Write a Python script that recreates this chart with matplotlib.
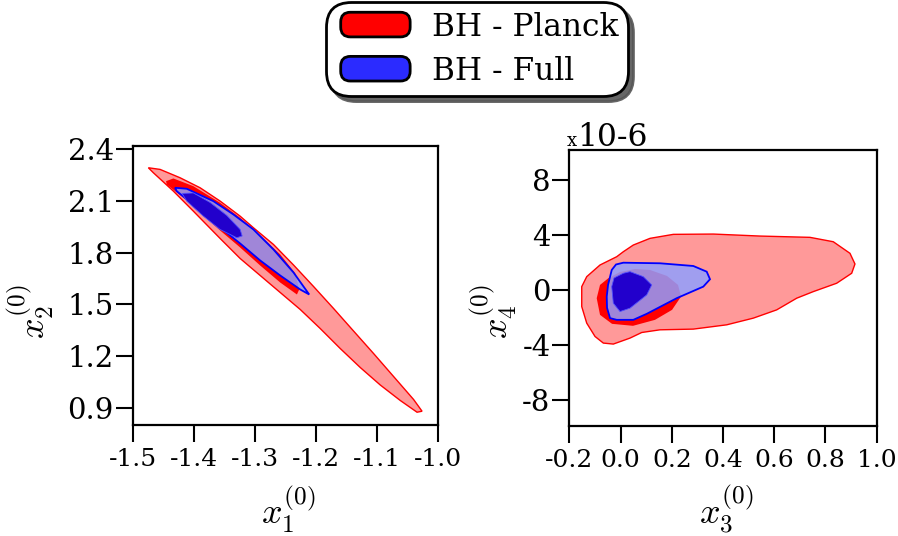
import matplotlib
matplotlib.use("Agg")
import matplotlib.pyplot as plt
from matplotlib.patches import Patch, FancyBboxPatch
from matplotlib.legend_handler import HandlerPatch

plt.rcParams["font.family"] = "DejaVu Serif"
plt.rcParams["mathtext.fontset"] = "cm"

# ---------------------------------------------------------------------------
# Contour outlines (data coordinates)
# left panel: x1 vs x2
# ---------------------------------------------------------------------------
planck_x12_outer_x = [-1.4744, -1.4552, -1.4225, -1.3897, -1.3567, -1.3241, -1.3023, -1.2695,
                      -1.2367, -1.2039, -1.1711, -1.1384, -1.1056, -1.0728, -1.0400, -1.0262,
                      -1.0344, -1.0618, -1.0946, -1.1274, -1.1602, -1.1930, -1.2257, -1.2585,
                      -1.2913, -1.3241, -1.3569, -1.4007, -1.4334, -1.4662]
planck_x12_outer_y = [2.2936, 2.2840, 2.2355, 2.1773, 2.0994, 2.0122, 1.9448, 1.8477,
                      1.7285, 1.6035, 1.4756, 1.3448, 1.2140, 1.0802, 0.9465, 0.8785,
                      0.8727, 0.9407, 1.0308, 1.1326, 1.2430, 1.3593, 1.4698, 1.5686,
                      1.6674, 1.7663, 1.8826, 2.0413, 2.1576, 2.2645]

planck_x12_inner_x = [-1.4454, -1.4334, -1.4007, -1.3569, -1.3241, -1.2913, -1.2585, -1.2339,
                      -1.2274, -1.2311, -1.2585, -1.2913, -1.3241, -1.3569, -1.3787, -1.4115,
                      -1.4443]
planck_x12_inner_y = [2.2157, 2.2314, 2.1866, 2.0901, 2.0029, 1.9000, 1.7900, 1.6800,
                      1.5860, 1.5570, 1.6267, 1.7256, 1.8302, 1.9291, 1.9988, 2.1035,
                      2.1965]

full_x12_outer_x = [-1.4307, -1.4115, -1.3679, -1.3351, -1.3023, -1.2695, -1.2367, -1.2110,
                    -1.2257, -1.2585, -1.2913, -1.3241, -1.3569, -1.3951, -1.4279]
full_x12_outer_y = [2.1773, 2.1715, 2.0994, 2.0221, 1.9349, 1.8186, 1.6849, 1.5570,
                    1.5860, 1.6674, 1.7547, 1.8535, 1.9465, 2.0628, 2.1576]

full_x12_inner_x = [-1.4192, -1.4007, -1.3733, -1.3459, -1.3241, -1.3208, -1.3295, -1.3569,
                    -1.3843, -1.4115]
full_x12_inner_y = [2.1442, 2.1471, 2.0919, 2.0163, 1.9349, 1.8971, 1.8866, 1.9349,
                    2.0122, 2.0994]

# right panel: x3 vs x4 (x4 in units of 1e-6)
planck_x34_outer_x = [-0.1516, -0.1321, -0.0802, -0.0150, 0.0108, 0.0498, 0.1150, 0.2059,
                      0.3621, 0.5443, 0.7395, 0.8304, 0.8956, 0.9151, 0.9023, 0.8437,
                      0.7524, 0.6876, 0.6095, 0.5182, 0.4144, 0.2840, 0.1540, 0.0826,
                      0.0369, -0.0283, -0.0673, -0.0997, -0.1321, -0.1516]
planck_x34_outer_y = [0.240, 0.967, 1.818, 2.422, 2.785, 3.273, 3.760, 4.051,
                      4.073, 3.927, 3.833, 3.513, 2.669, 1.891, 1.215, 0.487,
                      -0.124, -0.604, -1.455, -2.058, -2.545, -2.858, -2.909, -3.105,
                      -3.513, -3.949, -3.876, -3.396, -2.422, -1.215]

planck_x34_inner_x = [-0.0931, -0.0802, -0.0478, -0.0021, 0.0564, 0.1150, 0.1813, 0.2243,
                      0.2360, 0.2009, 0.1345, 0.0486, -0.0333, -0.0802]
planck_x34_inner_y = [-0.604, 0.364, 0.851, 1.309, 1.527, 1.455, 1.018, 0.364,
                      -0.487, -1.455, -2.182, -2.618, -2.473, -1.818]

full_x34_outer_x = [-0.0540, -0.0489, -0.0345, -0.0177, 0.0108, 0.1540, 0.2840, 0.3363,
                    0.3492, 0.3230, 0.2192, 0.1021, 0.0498, -0.0150, -0.0411, -0.0528]
full_x34_outer_y = [-0.487, 0.364, 1.455, 1.855, 1.985, 1.942, 1.745, 1.331,
                    0.778, 0.240, -0.604, -1.745, -2.182, -2.182, -2.058, -1.309]

full_x34_inner_x = [-0.0345, -0.0255, 0.0108, 0.0369, 0.0888, 0.1216, 0.1021, 0.0369,
                    -0.0021, -0.0283]
full_x34_inner_y = [0.240, 0.873, 1.215, 1.331, 0.967, 0.364, -0.364, -1.331,
                    -1.578, -0.967]

x1_ticks = [-1.5, -1.4, -1.3, -1.2, -1.1, -1.0]
x2_ticks = [0.9, 1.2, 1.5, 1.8, 2.1, 2.4]
x3_ticks = [-0.2, 0.0, 0.2, 0.4, 0.6, 0.8, 1.0]
x4_ticks = [-8, -4, 0, 4, 8]

labels = ["BH - Planck", "BH - Full"]
legend_colors = ["#ff0000", "#2b2bff"]

# colours of the filled regions
red_light = "#ff9999"
red_dark = "#ff0000"
blue_light = "#909fff"
blue_dark = "#2200cc"


class RoundBoxHandler(HandlerPatch):
    # rounded legend key, shifted right a little to leave room by the frame
    def create_artists(self, legend, orig_handle, xdescent, ydescent,
                       width, height, fontsize, trans):
        shift = 4.0
        p = FancyBboxPatch((-xdescent + shift, -ydescent - 1), width - shift, height + 2,
                           boxstyle="round,pad=0,rounding_size=7",
                           facecolor=orig_handle.get_facecolor(),
                           edgecolor="black", linewidth=2, transform=trans)
        return [p]


fig = plt.figure(figsize=(8.98, 5.36), dpi=100)
ax1 = fig.add_axes([0.1478, 0.2076, 0.3400, 0.5200])
ax2 = fig.add_axes([0.6340, 0.2058, 0.3423, 0.5143])


def draw_pair(ax, po_x, po_y, pi_x, pi_y, fo_x, fo_y, fi_x, fi_y):
    ax.fill(po_x, po_y, facecolor=red_light, edgecolor="red", linewidth=1.0, zorder=1)
    ax.fill(pi_x, pi_y, facecolor=red_dark, edgecolor="none", zorder=2)
    ax.fill(fo_x, fo_y, facecolor=blue_light, alpha=0.85, edgecolor="none", zorder=3)
    ax.fill(fo_x, fo_y, facecolor="none", edgecolor="blue", linewidth=1.3, zorder=4)
    ax.fill(fi_x, fi_y, facecolor=blue_dark, edgecolor="#5050ff", linewidth=0.6, zorder=5)


draw_pair(ax1, planck_x12_outer_x, planck_x12_outer_y, planck_x12_inner_x, planck_x12_inner_y,
          full_x12_outer_x, full_x12_outer_y, full_x12_inner_x, full_x12_inner_y)
draw_pair(ax2, planck_x34_outer_x, planck_x34_outer_y, planck_x34_inner_x, planck_x34_inner_y,
          full_x34_outer_x, full_x34_outer_y, full_x34_inner_x, full_x34_inner_y)

ax1.set_xlim(-1.5, -1.0)
ax1.set_ylim(0.80, 2.42)
ax1.set_xticks(x1_ticks)
ax1.set_xticklabels([f"{v:.1f}" for v in x1_ticks])
ax1.set_yticks(x2_ticks)
ax1.set_yticklabels([f"{v:.1f}" for v in x2_ticks])
ax1.set_xlabel(r"$x_1^{(0)}$", fontsize=26, ha="center", va="center")
ax1.set_ylabel(r"$x_2^{(0)}$", fontsize=26, ha="center", va="center")
ax1.xaxis.set_label_coords(0.51, -0.306)
ax1.yaxis.set_label_coords(-0.333, 0.404)

ax2.set_xlim(-0.2, 1.0)
ax2.set_ylim(-9.9, 10.2)
ax2.set_xticks(x3_ticks)
ax2.set_xticklabels([f"{v:.1f}" for v in x3_ticks])
ax2.set_yticks(x4_ticks)
ax2.set_yticklabels([str(v) for v in x4_ticks])
ax2.set_xlabel(r"$x_3^{(0)}$", fontsize=26, ha="center", va="center")
ax2.set_ylabel(r"$x_4^{(0)}$", fontsize=26, ha="center", va="center")
ax2.xaxis.set_label_coords(0.51, -0.306)
ax2.yaxis.set_label_coords(-0.245, 0.412)
ax2.text(-0.008, 1.016, "x", transform=ax2.transAxes, fontsize=13, va="baseline", ha="left")
ax2.text(0.026, 1.016, "10-6", transform=ax2.transAxes, fontsize=22.5, va="baseline", ha="left")

for ax in (ax1, ax2):
    for sp in ax.spines.values():
        sp.set_linewidth(1.6)
    ax.tick_params(direction="out", length=12.5, width=1.5)
    ax.tick_params(axis="x", labelsize=18, pad=4)
    ax.tick_params(axis="y", labelsize=21, pad=1)

handles = [Patch(facecolor=c) for c in legend_colors]
leg = fig.legend(handles, labels, loc="upper center", bbox_to_anchor=(0.531, 0.996),
                 fontsize=22.5, handler_map={Patch: RoundBoxHandler()},
                 handlelength=2.4, handleheight=0.7, handletextpad=0.7,
                 labelspacing=0.42, borderpad=0.3, borderaxespad=0.0,
                 frameon=True, fancybox=True,
                 shadow={"ox": 4, "oy": -4, "color": "#555555", "alpha": 0.9})
frame = leg.get_frame()
frame.set_edgecolor("black")
frame.set_linewidth(2)
frame.set_alpha(1)
frame.set_boxstyle("round", pad=0, rounding_size=0.8)

fig.savefig("out.png", dpi=100)
